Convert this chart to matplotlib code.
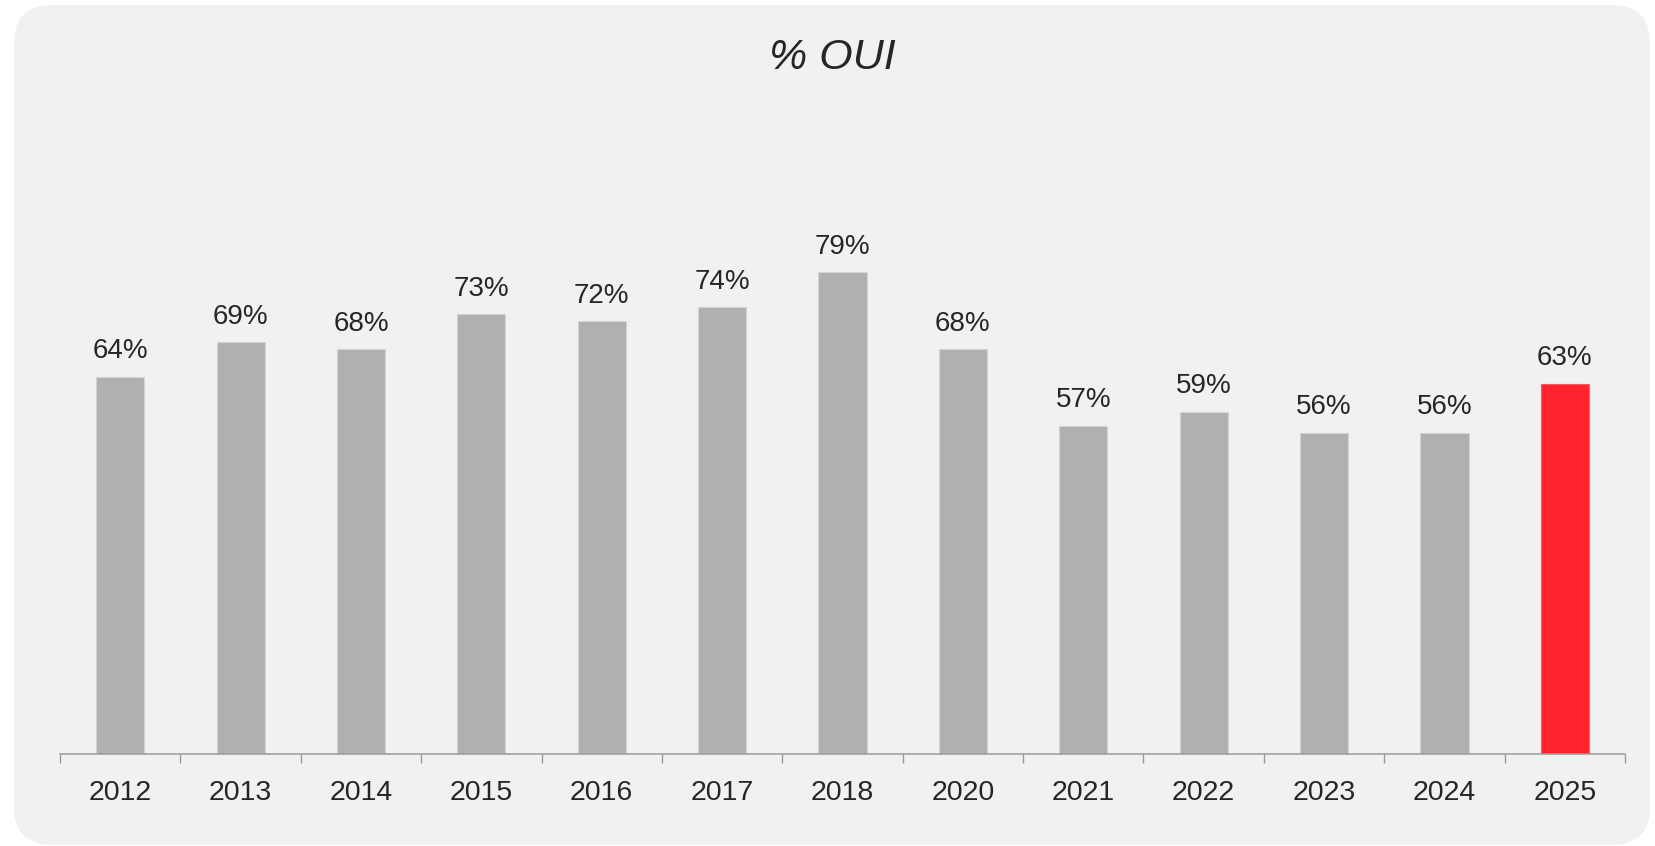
import matplotlib
matplotlib.use("Agg")
import matplotlib.pyplot as plt
from matplotlib.patches import FancyBboxPatch
from matplotlib.ticker import FixedLocator

years = ["2012", "2013", "2014", "2015", "2016", "2017", "2018",
         "2020", "2021", "2022", "2023", "2024", "2025"]
oui = [64, 69, 68, 73, 72, 74, 79, 68, 57, 59, 56, 56, 63]
highlight = "2025"

GREY = "#b0b0b0"
RED = "#fe232d"
TXT = "#262626"

plt.rcParams["font.family"] = ["Liberation Sans", "DejaVu Sans"]

W, H = 1655, 846
fig = plt.figure(figsize=(W / 100, H / 100), dpi=100)
fig.patch.set_facecolor("white")

# rounded background panel (pixel coords, origin bottom-left)
r = 38
panel = FancyBboxPatch((14 + r, 1 + r), 1636 - 2 * r, 840 - 2 * r,
                       boxstyle=f"round,pad={r}", transform=None,
                       facecolor="#f1f1f1", edgecolor="none", zorder=-5)
fig.patches.append(panel)

ax = fig.add_axes([60 / W, (H - 754) / H, 1565 / W, 558.4 / H])
ax.set_facecolor("none")
ax.set_zorder(2)

x = range(len(years))
colors = [RED if y == highlight else GREY for y in years]
bars = ax.bar(x, oui, width=0.4, color=colors, edgecolor="#d4d4d4",
              linewidth=0.8, zorder=2)
bars[-1].set_edgecolor("#fe5a60")

for xi, v in zip(x, oui):
    ax.annotate(f"{v}%", (xi, v), xytext=(0, 13.4), textcoords="offset points",
                ha="center", va="baseline", fontsize=20, color=TXT)

ax.set_xlim(-0.5, len(years) - 0.5)
ax.set_ylim(10, 90)

ax.set_xticks(list(x))
ax.set_xticklabels(years, fontsize=20.5, color=TXT)
ax.tick_params(axis="x", which="major", length=0, pad=18.5)
ax.xaxis.set_minor_locator(FixedLocator([i - 0.5 for i in range(len(years) + 1)]))
ax.tick_params(axis="x", which="minor", length=6.7, width=1.0, color="#9a9a9a",
               direction="out")
ax.set_yticks([])

for s in ["top", "right", "left"]:
    ax.spines[s].set_visible(False)
ax.spines["bottom"].set_color("#9a9a9a")
ax.spines["bottom"].set_linewidth(1.1)

fig.text(832 / W, 1 - 58 / H, "% OUI", ha="center", va="center",
         fontsize=31, fontstyle="italic", color=TXT)

fig.savefig("out.png", dpi=100, facecolor="white")
